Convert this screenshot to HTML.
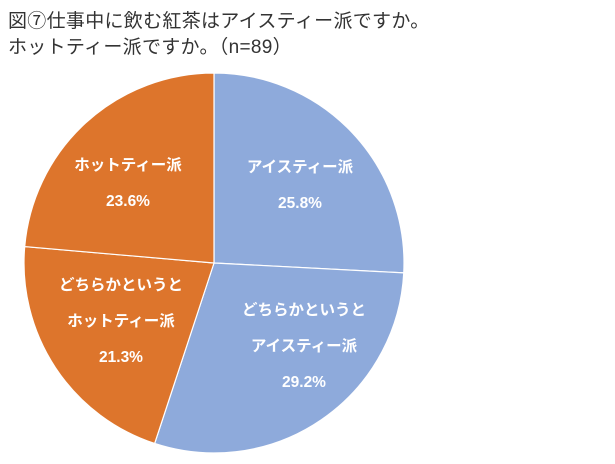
<!DOCTYPE html>
<html><head><meta charset="utf-8"><style>
body{margin:0;background:#fff;width:615px;height:464px;overflow:hidden;font-family:"Liberation Sans","Noto Sans CJK JP",sans-serif}
.t{position:absolute;left:8px;font-size:19px;color:#333;white-space:nowrap;letter-spacing:0.3px}
</style></head><body>
<div class="t" style="top:6px">図⑦仕事中に飲む紅茶はアイスティー派ですか。</div>
<div class="t" style="top:32px">ホットティー派ですか。（n=89）</div>
<svg id="c" width="615" height="464" style="position:absolute;left:0;top:0"></svg>
<script>
const categories=["アイスティー派","どちらかというとアイスティー派","どちらかというとホットティー派","ホットティー派"];
const values=[25.8,29.2,21.3,23.6];
const colors=["#8eaadb","#8eaadb","#dd752c","#dd752c"];
const labelLines=[["アイスティー派","25.8%"],["どちらかというと","アイスティー派","29.2%"],["どちらかというと","ホットティー派","21.3%"],["ホットティー派","23.6%"]];
const labelPos=[[300,172],[304,315],[121,290],[128,170]];
const svg=document.getElementById('c');const NS="http://www.w3.org/2000/svg";
const cx=214,cy=263,r=190;
const total=values.reduce((a,b)=>a+b,0);
function pt(a){return [cx+r*Math.sin(a),cy-r*Math.cos(a)];}
let acc=0;
values.forEach((v,i)=>{
 const a0=acc/total*2*Math.PI;acc+=v;const a1=acc/total*2*Math.PI;
 const p0=pt(a0),p1=pt(a1);
 const p=document.createElementNS(NS,'path');
 p.setAttribute('d',`M${cx},${cy}L${p0[0]},${p0[1]}A${r},${r} 0 ${a1-a0>Math.PI?1:0} 1 ${p1[0]},${p1[1]}Z`);
 p.setAttribute('fill',colors[i]);p.setAttribute('stroke','#fff');p.setAttribute('stroke-width','1.2');
 
 
 svg.appendChild(p);
});
labelLines.forEach((lines,i)=>{
 const [x,y]=labelPos[i];
 lines.forEach((s,j)=>{
  const t=document.createElementNS(NS,'text');
  t.setAttribute('x',x);t.setAttribute('y',y+j*36);
  t.setAttribute('text-anchor','middle');t.setAttribute('fill','#fff');
  t.setAttribute('font-size','15.5');t.setAttribute('font-weight','bold');
  t.textContent=s;
  
  
  svg.appendChild(t);
 });
});
</script>
</body></html>
